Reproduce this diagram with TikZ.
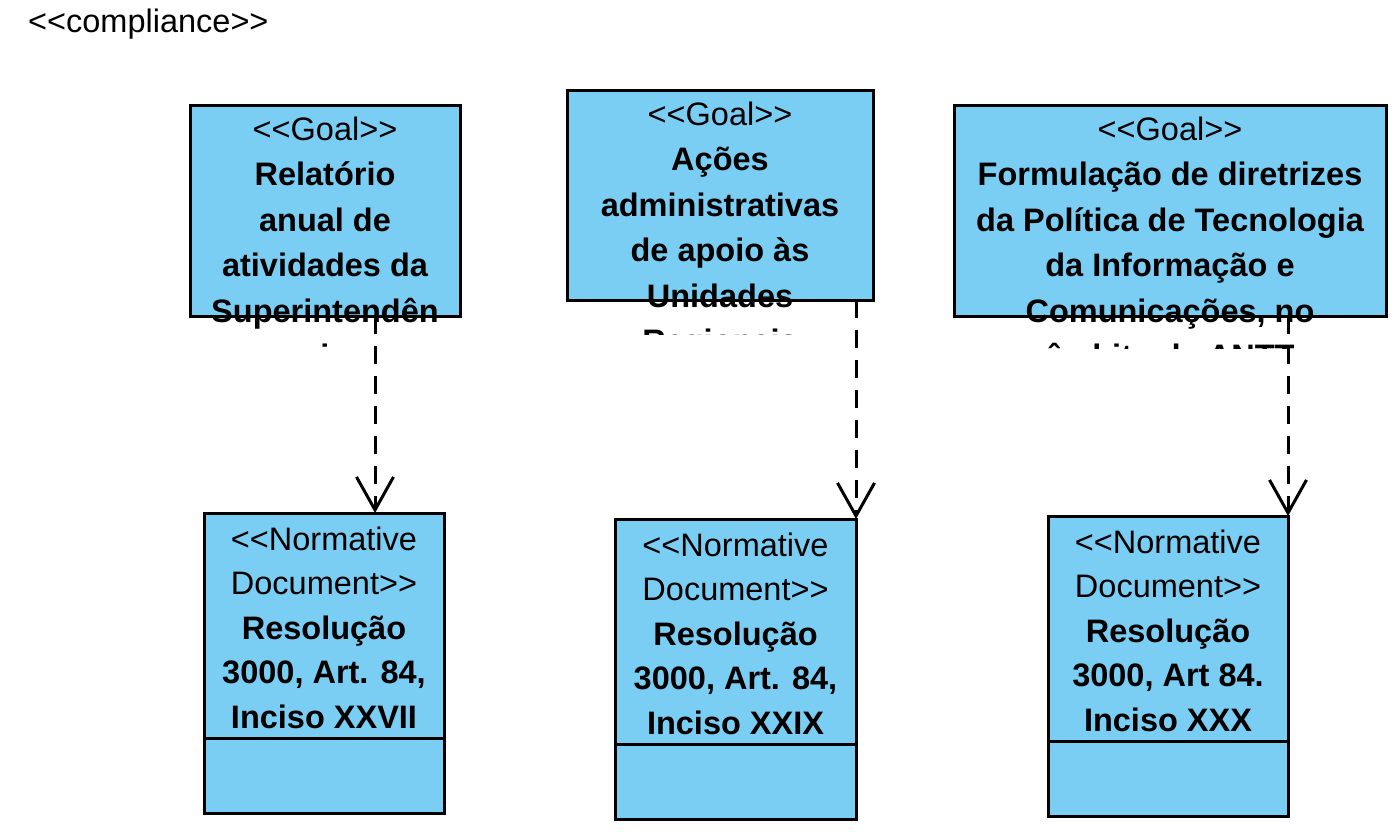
\documentclass[tikz,border=0pt]{standalone}
\usepackage{fontspec}
\setmainfont{Liberation Sans}[Ligatures=TeXOff]
\usetikzlibrary{arrows.meta}
\definecolor{umlblue}{RGB}{122,206,244}

\tikzset{
    umlbox/.style={draw, line width=3pt, fill=umlblue, inner sep=0pt, outer sep=0pt},
    boxtext/.style={anchor=base, align=center, inner sep=0pt, font=\fontsize{32.5}{45.5}\selectfont\bfseries},
    doctext/.style={boxtext, font=\fontsize{32.5}{44.5}\selectfont\bfseries},
    depends/.style={line width=3pt, dash pattern=on 18pt off 12pt, -{Straight Barb[length=33pt, width=37pt]}}
}

\begin{document}
\begin{tikzpicture}[x=1pt, y=-1pt]

        \useasboundingbox (0,0) rectangle (1398,831);

        \node[anchor=base west, inner sep=0pt, font=\fontsize{32.5}{45}\selectfont] (compliance) at (28,32) {<<compliance>>};

        \node[umlbox, minimum width=270pt, minimum height=211pt] (goalA) at (325,210.5) {};
        \node[umlbox, minimum width=306pt, minimum height=210pt] (goalB) at (720,195) {};
        \node[umlbox, minimum width=432pt, minimum height=211pt] (goalC) at (1170,210.5) {};

        % anchor=base sits on the last line
        \begin{scope}
            \clip (150,95) rectangle (520,348);
            \node[boxtext] (goalAtext) at (325,367.5) {{\mdseries <<Goal>>}\\Relatório\\anual de\\atividades da\\Superintendên\\cia};
        \end{scope}
        \begin{scope}
            \clip (530,80) rectangle (910,334);
            \node[boxtext] (goalBtext) at (720,352.5) {{\mdseries <<Goal>>}\\Ações\\administrativas\\de apoio às\\Unidades\\Regionais};
        \end{scope}
        \begin{scope}
            \clip (930,95) rectangle (1398,348);
            \node[boxtext] (goalCtext) at (1170,367.5) {{\mdseries <<Goal>>}\\Formulação de diretrizes\\da Política de Tecnologia\\da Informação e\\Comunicações, no\\âmbito da ANTT};
        \end{scope}

        \node[umlbox, minimum width=240pt, minimum height=300pt] (normA) at (324,663) {};
        \node[umlbox, minimum width=241pt, minimum height=300pt] (normB) at (735.5,669) {};
        \node[umlbox, minimum width=240pt, minimum height=300pt] (normC) at (1168,666) {};

        \foreach \n in {normA, normB, normC}
            \draw[line width=3pt] ([yshift=-225pt]\n.north west) -- ([yshift=-225pt]\n.north east);

        \node[doctext] (normAtext) at (324,728) {{\mdseries <<Normative}\\{\mdseries Document>>}\\Resolução\\3000, Art. 84,\\Inciso XXVII};
        \node[doctext] (normBtext) at (735.5,734) {{\mdseries <<Normative}\\{\mdseries Document>>}\\Resolução\\3000, Art. 84,\\Inciso XXIX};
        \node[doctext] (normCtext) at (1168,731) {{\mdseries <<Normative}\\{\mdseries Document>>}\\Resolução\\3000, Art 84.\\Inciso XXX};

        \coordinate (tipA) at (375,513);
        \draw[depends] (goalA.south -| tipA) -- (tipA);
        \draw[depends] (goalB.south -| normB.north east) -- (normB.north east);
        \draw[depends] (goalC.south -| normC.north east) -- (normC.north east);

    \end{tikzpicture}
\end{document}
